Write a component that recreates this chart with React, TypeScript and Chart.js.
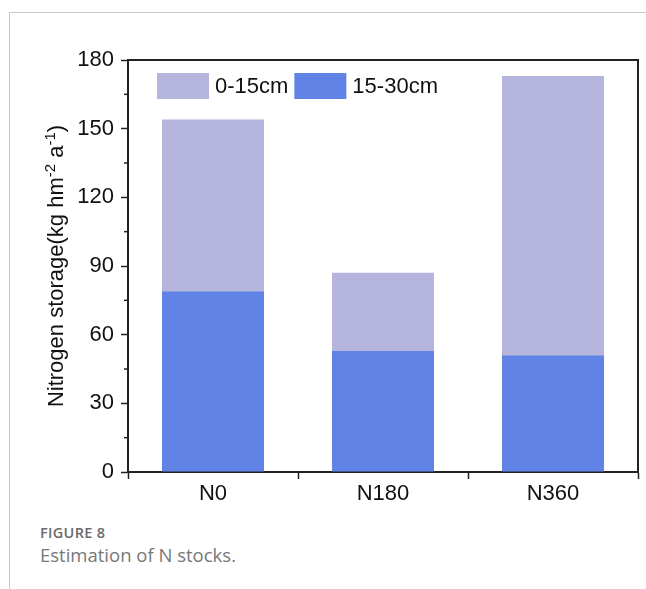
import React, { useEffect, useRef } from "react";
import { Chart, registerables } from "chart.js";

Chart.register(...registerables);

const categories = ["N0", "N180", "N360"];
const deep = [79, 53, 51]; // 15-30cm
const shallow = [75, 34, 122]; // 0-15cm
const seriesNames = ["0-15cm", "15-30cm"];
const yTicks = [0, 30, 60, 90, 120, 150, 180];

const LIGHT = "#b4b4dd";
const BLUE = "#6183e5";
const AXIS = "#222222";
const FONT = "Arial, 'Liberation Sans', sans-serif";

const decorPlugin = {
  id: "decor",
  afterDraw(chart: any) {
    const { ctx, chartArea, scales } = chart;
    const y = scales.y;
    ctx.save();
    // frame top & right
    ctx.strokeStyle = AXIS;
    ctx.lineWidth = 2;
    ctx.beginPath();
    ctx.moveTo(chartArea.left, chartArea.top);
    ctx.lineTo(chartArea.right, chartArea.top);
    ctx.lineTo(chartArea.right, chartArea.bottom);
    ctx.stroke();
    // minor y ticks
    ctx.lineWidth = 1.5;
    for (let i = 0; i < yTicks.length - 1; i++) {
      const v = (yTicks[i] + yTicks[i + 1]) / 2;
      const py = y.getPixelForValue(v);
      ctx.beginPath();
      ctx.moveTo(chartArea.left - 4, py);
      ctx.lineTo(chartArea.left, py);
      ctx.stroke();
    }
    // legend
    const items = [
      { label: seriesNames[0], color: LIGHT },
      { label: seriesNames[1], color: BLUE },
    ];
    ctx.font = `22px ${FONT}`;
    ctx.textBaseline = "middle";
    ctx.textAlign = "left";
    let lx = 157;
    const ly = 73;
    for (const it of items) {
      ctx.fillStyle = it.color;
      ctx.fillRect(lx, ly, 52, 26);
      ctx.fillStyle = "#111";
      ctx.fillText(it.label, lx + 58, ly + 14);
      lx += 58 + ctx.measureText(it.label).width + 6;
    }
    // y title with superscripts
    const parts: [string, boolean][] = [
      ["Nitrogen storage(kg hm", false],
      ["-2", true],
      [" a", false],
      ["-1", true],
      [")", false],
    ];
    const mainF = `22px ${FONT}`;
    const supF = `15px ${FONT}`;
    let total = 0;
    for (const [t, s] of parts) {
      ctx.font = s ? supF : mainF;
      total += ctx.measureText(t).width;
    }
    const cy = (chartArea.top + chartArea.bottom) / 2;
    ctx.translate(63, cy);
    ctx.rotate(-Math.PI / 2);
    ctx.textBaseline = "alphabetic";
    ctx.fillStyle = "#111";
    let tx = -total / 2;
    for (const [t, s] of parts) {
      ctx.font = s ? supF : mainF;
      ctx.fillText(t, tx, s ? -8 : 0);
      tx += ctx.measureText(t).width;
    }
    ctx.restore();
  },
};

export default function App() {
  const ref = useRef<HTMLCanvasElement>(null);
  useEffect(() => {
    const chart = new Chart(ref.current!, {
      type: "bar",
      data: {
        labels: categories,
        datasets: [
          { label: seriesNames[1], data: deep, backgroundColor: BLUE, borderWidth: 0 },
          { label: seriesNames[0], data: shallow, backgroundColor: LIGHT, borderWidth: 0 },
        ],
      },
      options: {
        animation: false,
        responsive: false,
        maintainAspectRatio: false,
        layout: { padding: { left: 0, right: 8, top: 60, bottom: 0 } },
        datasets: { bar: { categoryPercentage: 1, barPercentage: 0.6 } },
        plugins: { legend: { display: false }, tooltip: { enabled: false } },
        scales: {
          x: {
            stacked: true,
            grid: { offset: true, drawOnChartArea: false, tickLength: 7, tickWidth: 1.5, tickColor: AXIS },
            border: { display: true, color: AXIS, width: 2 },
            ticks: { font: { size: 22, family: FONT }, color: "#111", padding: 2 },
            afterFit: (s: any) => { s.height = 38; },
          },
          y: {
            stacked: true,
            min: 0,
            max: 180,
            grid: { drawOnChartArea: false, tickLength: 7, tickWidth: 1.5, tickColor: AXIS },
            border: { display: true, color: AXIS, width: 2 },
            ticks: { stepSize: 30, font: { size: 22, family: FONT }, color: "#111", padding: 7 },
            afterFit: (s: any) => { s.width = 128; },
          },
        },
      },
      plugins: [decorPlugin],
    });
    return () => chart.destroy();
  }, []);
  return (
    <div style={{ position: "fixed", left: 0, top: 0, width: 646, height: 589, background: "#fff", overflow: "hidden" }}>
      <div style={{ position: "absolute", left: 9, top: 12, right: 0, height: 1, background: "#c8c8c8" }} />
      <div style={{ position: "absolute", left: 9, top: 12, bottom: 0, width: 1, background: "#c8c8c8" }} />
      <canvas ref={ref} width={646} height={510} style={{ position: "absolute", left: 0, top: 0, width: 646, height: 510 }} />
      <div style={{ position: "absolute", left: 40, top: 524, fontFamily: "'Open Sans', sans-serif", fontSize: 14.5, fontWeight: 600, letterSpacing: 0.3, color: "#6a6a6a", lineHeight: "18px" }}>FIGURE 8</div>
      <div style={{ position: "absolute", left: 40, top: 542, fontFamily: "'Open Sans', sans-serif", fontSize: 18.5, color: "#777", lineHeight: "26px" }}>Estimation of N stocks.</div>
    </div>
  );
}
